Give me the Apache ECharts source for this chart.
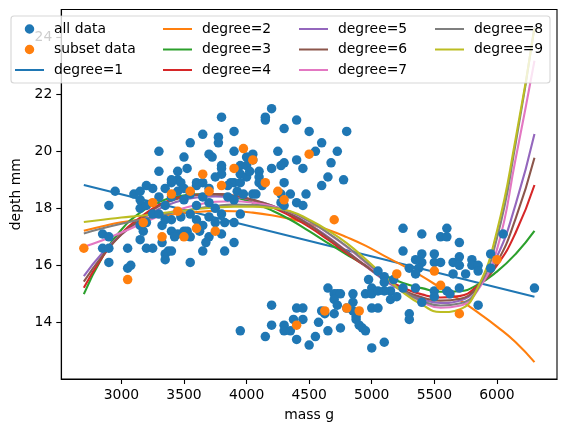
<!DOCTYPE html>
<html>
<head>
<meta charset="utf-8">
<script src="https://cdn.jsdelivr.net/npm/echarts@6/dist/echarts.min.js"></script>
<style>
html,body{margin:0;padding:0;background:#fff;}
#chart{width:566px;height:432px;}
</style>
</head>
<body>
<div id="chart"></div>
<script>
// ---- data ----
const allMass = [2850,2850,2900,2900,2900,2900,2950,3050,3050,3075,
3100,3150,3150,3150,3175,3150,3200,3250,3200,3250,
3250,3300,3300,3325,3350,3400,3400,3325,3375,3350,
3400,3350,3450,3500,3525,3550,3650,3825,3900,3400,
3450,3450,3500,3525,3550,3650,3775,3775,3800,3700,
3725,3800,3800,3800,3750,3600,3600,3475,3400,3900,
3900,4000,4050,3950,3950,4000,4000,4025,4050,4150,
4150,4200,4400,4300,4500,4800,4600,4250,4550,4725,
4675,4400,4300,4275,4200,4450,4650,4775,4600,4300,
4100,4100,4100,4125,3900,3950,3875,3925,3975,4050,
4075,4350,4400,4450,4475,4275,4275,4300,3800,3825,
3900,3800,3950,3300,3350,3400,3450,3500,3550,3600,
3650,3700,3700,3750,3550,3475,3600,3650,3700,3700,
3750,3300,3200,3550,3625,3675,3425,3350,3200,3500,
3650,3850,3850,3900,3150,
3950,4150,4200,4200,4300,4300,4350,4400,4400,4450,
4375,4450,4500,4550,4575,4600,4625,4650,4700,4725,
4750,4650,4700,4725,4700,4750,4800,4850,4850,4850,
4875,4875,4900,4925,4950,4950,5000,5000,4975,5000,
5050,5000,5100,5050,5100,5100,5150,5150,5200,5100,
5175,5300,5300,5250,5350,5400,5050,
5250,5250,5400,5400,5400,5375,5300,5350,5350,5500,
5500,5550,5550,5600,5600,5650,5700,5700,5700,5650,
5750,5800,5800,5850,5850,5850,5950,5950,6050,6300,
5500,5500,5600,5625,5700];
const allDepth = [17.1,16.6,16.6,17.0,16.1,18.1,18.6,16.6,15.9,16.0,
18.5,18.6,18.0,17.4,17.2,16.9,16.6,16.6,18.1,17.8,
18.7,20.0,19.3,17.4,17.6,17.6,17.2,16.8,16.5,16.4,
16.5,16.2,17.1,17.2,17.2,16.1,16.5,16.5,16.8,18.9,
19.3,19.0,19.8,19.4,20.3,20.6,20.5,20.3,21.2,19.9,
19.8,19.5,19.4,19.2,19.1,18.9,18.8,18.9,19.0,20.7,
20.0,19.8,19.9,19.5,19.2,19.1,19.5,19.3,19.7,21.1,
21.2,21.5,21.1,20.8,20.7,20.7,20.3,20.0,20.0,20.0,
19.6,19.7,19.6,19.5,19.4,19.4,19.1,19.0,18.8,18.9,
19.3,19.1,18.9,18.8,18.9,18.9,18.9,18.6,18.5,18.5,
18.5,18.5,18.2,18.1,18.5,18.5,18.2,18.1,17.8,17.5,
17.5,17.1,17.8,18.4,18.1,18.4,18.6,18.3,18.5,18.1,
18.4,18.7,18.2,18.0,17.8,17.7,17.6,17.4,17.0,17.7,
17.5,17.8,17.5,17.0,17.2,16.8,17.0,18.7,18.8,18.7,
18.9,18.4,18.8,18.3,18.3,
13.7,13.5,13.9,14.6,13.9,13.7,13.7,13.4,14.5,14.5,
14.1,14.1,13.2,13.5,14.0,14.4,14.3,15.2,15.0,15.0,
15.0,13.7,14.8,14.6,14.3,13.8,14.5,14.7,15.0,14.4,
14.2,14.1,13.9,13.8,13.7,15.0,15.2,15.0,15.5,14.5,
14.5,13.1,13.3,15.8,15.6,15.4,15.1,14.8,14.9,15.1,
15.5,14.3,14.1,15.2,15.2,14.7,15.1,
17.3,16.5,17.1,16.4,16.1,15.9,15.9,15.7,16.2,16.4,
16.1,16.1,17.0,17.3,17.0,16.1,16.3,16.0,16.8,15.7,
15.7,16.2,16.0,16.0,15.8,14.6,16.4,15.9,17.1,15.2,
15.1,14.9,15.1,15.0,15.2];

const subMass = [2700,3050,3175,3250,3325,3400,3450,3500,3550,3600,
3650,3700,3750,3800,3900,3975,4050,4150,4250,4300,
4500,4700,4400,4625,4800,4900,5200,5500,5550,5700,6000];
const subDepth = [16.6,15.5,17.5,18.2,17.0,18.5,17.9,17.0,18.6,17.3,
19.2,18.6,17.2,18.8,19.4,20.1,19.7,18.9,18.6,18.3,
19.9,17.6,13.9,14.4,14.5,14.4,15.7,15.8,15.3,14.3,16.2];

const deg1Mass = [2700, 6300];
const deg1Depth = [18.82, 14.90];

// fitted curves, read every 150 g
const fitMass = [2700,2850,3000,3150,3300,3450,3600,3750,3900,4050,4200,4350,4500,4650,4800,4950,5100,5250,5400,5550,5700,5850,6000,6150,6300];
const deg2Depth = [17.21,17.37,17.51,17.61,17.72,17.81,17.87,17.91,17.90,17.85,17.76,17.63,17.46,17.25,16.99,16.69,16.33,15.99,15.62,15.21,14.80,14.34,13.85,13.30,12.60];
const deg3Depth = [14.99,16.30,17.25,17.85,18.22,18.42,18.49,18.49,18.40,18.20,17.93,17.60,17.20,16.78,16.38,16.00,15.66,15.38,15.20,15.07,15.09,15.33,15.78,16.40,17.21];
const deg4Depth = [15.21,16.30,17.12,17.68,18.12,18.37,18.48,18.50,18.43,18.28,18.05,17.73,17.35,16.90,16.43,15.97,15.55,15.21,14.98,14.87,14.92,15.30,16.00,17.15,18.82];
const deg5Depth = [15.62,16.44,17.08,17.57,17.98,18.24,18.38,18.42,18.40,18.29,18.10,17.82,17.45,17.00,16.50,15.98,15.48,15.09,14.82,14.68,14.76,15.25,16.30,18.15,20.61];
const deg6Depth = [15.43,16.34,17.08,17.60,18.08,18.34,18.46,18.50,18.45,18.30,18.10,17.80,17.42,16.97,16.48,15.99,15.52,15.13,14.88,14.76,14.82,15.25,16.10,17.65,19.78];
const deg7Depth = [16.65,16.88,17.15,17.44,17.72,17.95,18.12,18.23,18.25,18.20,18.08,17.87,17.55,17.13,16.65,16.10,15.55,15.09,14.72,14.51,14.58,15.15,16.55,19.75,23.18];
const deg8Depth = [17.12,17.30,17.46,17.60,17.74,17.88,17.99,18.08,18.13,18.12,18.04,17.88,17.55,17.14,16.67,16.13,15.60,15.10,14.76,14.59,14.66,15.20,16.95,20.28,24.38];
const deg9Depth = [17.52,17.60,17.68,17.74,17.82,17.90,17.97,18.03,18.06,18.06,18.01,17.90,17.60,17.23,16.78,16.22,15.62,15.05,14.62,14.36,14.45,15.25,17.20,20.45,24.32];

const xTicks = [3000,3500,4000,4500,5000,5500,6000];
const yTicks = [14,16,18,20,22,24];

const colors = ['#1f77b4','#ff7f0e','#2ca02c','#d62728','#9467bd','#8c564b','#e377c2','#7f7f7f','#bcbd22'];

function pairs(xs, ys){ return xs.map((x,i)=>[x, ys[i]]); }

const FONT = 'DejaVu Sans';
const FS = 13.9;

const fits = [deg2Depth,deg3Depth,deg4Depth,deg5Depth,deg6Depth,deg7Depth,deg8Depth,deg9Depth];

const series = [
  {name:'all data', type:'scatter', data:pairs(allMass, allDepth), symbolSize:9.5,
   itemStyle:{color:colors[0], opacity:1}, z:2},
  {name:'subset data', type:'scatter', data:pairs(subMass, subDepth), symbolSize:9.5,
   itemStyle:{color:colors[1], opacity:1}, z:2},
  {name:'degree=1', type:'line', data:pairs(deg1Mass, deg1Depth), showSymbol:false, symbol:'none',
   lineStyle:{color:colors[0], width:2.1}, itemStyle:{color:colors[0]}, z:2}
];
fits.forEach((d,i)=>{
  series.push({name:'degree='+(i+2), type:'line', data:pairs(fitMass, d), showSymbol:false, symbol:'none',
    smooth:0.5, lineStyle:{color:colors[i+1], width:2.1}, itemStyle:{color:colors[i+1]}, z:2});
});

// legend icons: a 29x14 box with tiny corner specks so the path keeps its size
const corners = 'M0,0 L0.01,0 L0,0.01 Z M29,14 L28.99,14 L29,13.99 Z ';
const dotIcon = 'path://' + corners + 'M9.75,7 A4.75,4.75 0 1,1 19.25,7 A4.75,4.75 0 1,1 9.75,7 Z';
const lineIcon = 'path://' + corners + 'M0,5.95 L29,5.95 L29,8.05 L0,8.05 Z';
function item(name){
  return {name:name, icon: name.indexOf('data') >= 0 ? dotIcon : lineIcon};
}
const legText = {fontFamily:FONT, fontSize:FS, color:'#000', padding:[0,0,0,5], lineHeight:14};
function leg(left, names){
  return {orient:'vertical', left:left, top:22, data:names.map(item), itemWidth:29, itemHeight:14, itemGap:6.5,
    padding:0, textStyle:legText, selectedMode:false, z:5, symbolKeepAspect:true};
}

const chart = echarts.init(document.getElementById('chart'), null, {renderer:'canvas'});
chart.setOption({
  animation:false,
  backgroundColor:'#fff',
  grid:{left:61.3, right:9, top:9.5, bottom:53, show:true, borderColor:'#000', borderWidth:1.1, backgroundColor:'transparent'},
  xAxis:{type:'value', min:2520, max:6480,
    name:'mass g', nameLocation:'middle', nameGap:29,
    nameTextStyle:{fontFamily:FONT, fontSize:FS, color:'#000'},
    axisLine:{show:true, onZero:false, lineStyle:{color:'#000', width:1.1}},
    axisTick:{show:true, length:5, lineStyle:{color:'#000', width:1.1}, customValues:xTicks},
    axisLabel:{fontFamily:FONT, fontSize:FS, color:'#000', margin:9, customValues:xTicks,
      formatter:(v)=>String(v)},
    splitLine:{show:false}},
  yAxis:{type:'value', min:12.01, max:24.98,
    name:'depth mm', nameLocation:'middle', nameGap:31.5,
    nameTextStyle:{fontFamily:FONT, fontSize:FS, color:'#000'},
    axisLine:{show:true, onZero:false, lineStyle:{color:'#000', width:1.1}},
    axisTick:{show:true, length:5, lineStyle:{color:'#000', width:1.1}, customValues:yTicks},
    axisLabel:{fontFamily:FONT, fontSize:FS, color:'#000', margin:9, customValues:yTicks,
      formatter:(v)=>String(v)},
    splitLine:{show:false}},
  graphic:{elements:[{type:'rect', z:3, shape:{x:11, y:16, width:539, height:67, r:3},
    style:{fill:'rgba(255,255,255,0.8)', stroke:'rgba(204,204,204,0.8)', lineWidth:1.1}}]},
  legend:[
    leg(15, ['all data','subset data','degree=1']),
    leg(163, ['degree=2','degree=3','degree=4']),
    leg(299, ['degree=5','degree=6','degree=7']),
    leg(435, ['degree=8','degree=9'])
  ],
  series:series
});
</script>
</body>
</html>
